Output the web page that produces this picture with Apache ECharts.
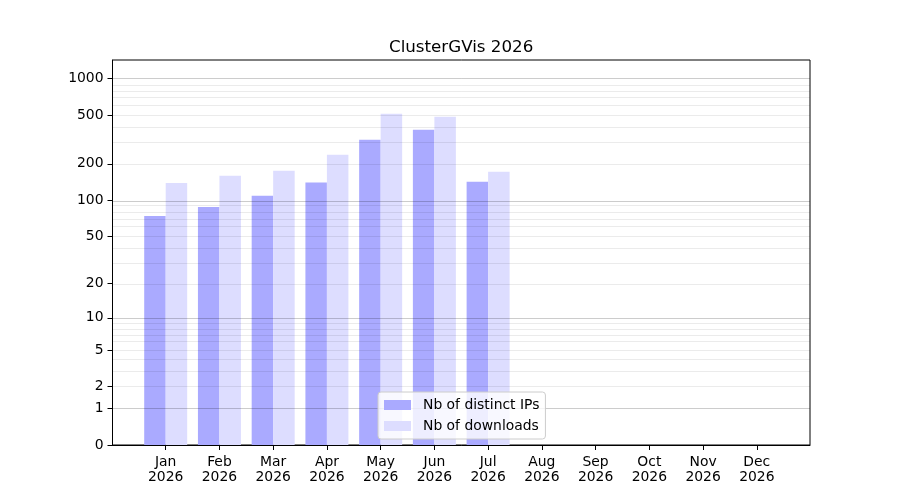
<!DOCTYPE html>
<html>
<head>
<meta charset="utf-8">
<script src="https://cdn.jsdelivr.net/npm/echarts@6/dist/echarts.min.js"></script>
<style>
  html, body { margin: 0; padding: 0; background: #fff; }
  #chart { width: 900px; height: 500px; }
</style>
</head>
<body>
<div id="chart"></div>
<script>
// data
var months = ['Jan', 'Feb', 'Mar', 'Apr', 'May', 'Jun', 'Jul', 'Aug', 'Sep', 'Oct', 'Nov', 'Dec']
var year = '2026'
var distinctIPs = [74, 88, 109, 140, 315, 381, 142, 0, 0, 0, 0, 0]
var downloads = [139, 159, 175, 237, 516, 487, 172, 0, 0, 0, 0, 0]
var yTicks = [0, 1, 2, 5, 10, 20, 50, 100, 200, 500, 1000]
var majorGrid = [1, 10, 100, 1000]
var minorGrid = [2, 3, 4, 5, 6, 7, 8, 9, 20, 30, 40, 50, 60, 70, 80, 90, 200, 300, 400, 500, 600, 700, 800, 900]

// y scale is log10(1 + v)
function tf(v) { return Math.log10(1 + v) }
function untf(t) { return Math.round(Math.pow(10, t) - 1) }

var font = 'DejaVu Sans'
var myChart = echarts.init(document.getElementById('chart'))

var gridLines = []
minorGrid.forEach(function (v) {
    gridLines.push({ yAxis: tf(v), lineStyle: { color: 'rgba(0,0,0,0.08)', width: 1, type: 'solid' } })
})
majorGrid.forEach(function (v) {
    gridLines.push({ yAxis: tf(v), lineStyle: { color: 'rgba(0,0,0,0.2)', width: 1, type: 'solid' } })
})

var monthIdx = months.map(function (m, i) { return i })

myChart.setOption({
    animation: false,
    title: {
        text: 'ClusterGVis ' + year,
        left: 384,
        top: 34,
        textStyle: { fontFamily: font, fontSize: 16.7, fontWeight: 'normal', color: '#000' }
    },
    grid: {
        left: 112.5, right: 90, top: 60, bottom: 55,
        show: true, borderColor: '#000', borderWidth: 1
    },
    legend: {
        data: ['Nb of distinct IPs', 'Nb of downloads'],
        orient: 'vertical',
        left: 378,
        top: 392,
        itemWidth: 27,
        itemHeight: 10,
        itemGap: 5,
        padding: [5, 6, 5, 6],
        icon: 'rect',
        backgroundColor: 'rgba(255,255,255,0.8)',
        borderColor: '#cccccc',
        borderWidth: 1,
        borderRadius: 3,
        z: 10,
        textStyle: { fontFamily: font, fontSize: 13.9, color: '#000', lineHeight: 16, padding: [0, 0, 0, 7] }
    },
    xAxis: {
        type: 'value',
        min: -0.99,
        max: 11.99,
        axisLine: { show: true, onZero: false, lineStyle: { color: '#000' } },
        axisTick: { show: true, length: 5, lineStyle: { color: '#000' }, customValues: monthIdx },
        axisLabel: {
            customValues: monthIdx,
            formatter: function (v) { return months[v] + '\n' + year },
            fontFamily: font, fontSize: 13.9, color: '#000', lineHeight: 15, margin: 10
        },
        splitLine: { show: false }
    },
    yAxis: {
        type: 'value',
        min: 0,
        max: tf(1421),
        axisLine: { show: true, onZero: false, lineStyle: { color: '#000' } },
        axisTick: { show: true, length: 5, lineStyle: { color: '#000' }, customValues: yTicks.map(tf) },
        axisLabel: {
            customValues: yTicks.map(tf),
            formatter: function (v) { return String(untf(v)) },
            fontFamily: font, fontSize: 13.9, color: '#000', margin: 9,
            padding: [2, 0, 0, 0]
        },
        splitLine: { show: false }
    },
    series: [{
        name: 'Nb of distinct IPs',
        type: 'bar',
        barWidth: 21.5,
        barGap: '-100%',
        itemStyle: { color: '#aaaaff' },
        data: distinctIPs.map(function (v, i) { return [i - 0.2, tf(v)] })
    }, {
        name: 'Nb of downloads',
        type: 'bar',
        barWidth: 21.5,
        barGap: '-100%',
        itemStyle: { color: '#ddddff' },
        data: downloads.map(function (v, i) { return [i + 0.2, tf(v)] })
    }, {
        type: 'line',
        data: [],
        z: 5,
        silent: true,
        markLine: {
            silent: true,
            symbol: ['none', 'none'],
            label: { show: false },
            animation: false,
            data: gridLines
        }
    }]
})
</script>
</body>
</html>
